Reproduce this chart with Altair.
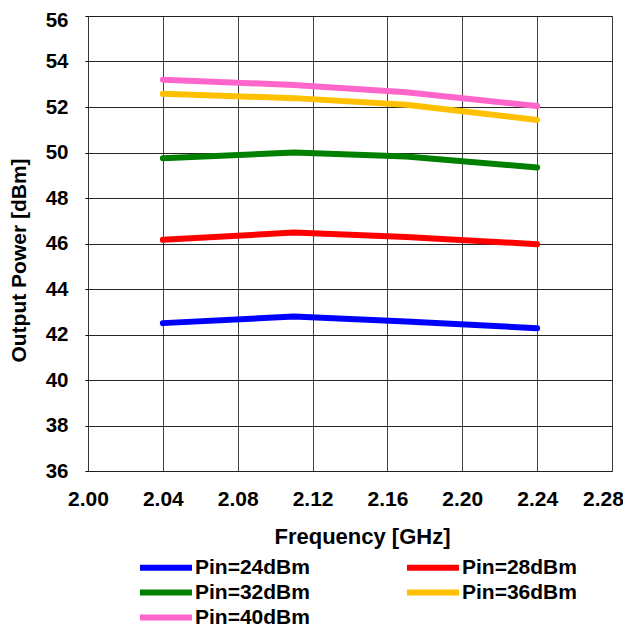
import altair as alt
import pandas as pd

freq = [2.04, 2.11, 2.17, 2.24]
series_names = ["Pin=24dBm", "Pin=28dBm", "Pin=32dBm", "Pin=36dBm", "Pin=40dBm"]
p24 = [42.50, 42.79, 42.57, 42.28]
p28 = [46.16, 46.48, 46.29, 45.97]
p32 = [49.75, 50.00, 49.82, 49.34]
p36 = [52.58, 52.39, 52.10, 51.43]
p40 = [53.20, 52.97, 52.65, 52.04]
colors = ["#0000FF", "#FF0000", "#008000", "#FFC000", "#FF66CC"]
x_ticks = [2.00, 2.04, 2.08, 2.12, 2.16, 2.20, 2.24, 2.28]
y_ticks = [36, 38, 40, 42, 44, 46, 48, 50, 52, 54, 56]

rows = []
for name, vals in zip(series_names, [p24, p28, p32, p36, p40]):
    for f, v in zip(freq, vals):
        rows.append({"Frequency": f, "Power": v, "Series": name})
df = pd.DataFrame(rows)

FONT = "Liberation Sans"

chart = alt.Chart(df).mark_line(strokeWidth=6, strokeCap="round", strokeJoin="round").encode(
    x=alt.X("Frequency:Q",
            scale=alt.Scale(domain=[2.00, 2.28], nice=False, zero=False),
            axis=alt.Axis(values=x_ticks, format=".2f", title="Frequency [GHz]",
                          grid=True, gridColor="#000000", gridWidth=1, gridOpacity=0.75,
                          tickSize=0, labelPadding=17, labelFlush=False,
                          labelOffset={"condition": {"test": "datum.value > 2.27", "value": -9},
                                       "value": 0},
                          titleX=274, titleY=72, titleAlign="center", titleBaseline="alphabetic",
                          labelFontSize=21, titleFontSize=22, labelFont=FONT, titleFont=FONT,
                          labelFontWeight="bold", titleFontWeight="bold",
                          labelColor="#000000", titleColor="#000000", domain=False)),
    y=alt.Y("Power:Q",
            scale=alt.Scale(domain=[36, 56], nice=False, zero=False),
            axis=alt.Axis(values=y_ticks, format="d", title="Output Power [dBm]",
                          grid=True, gridColor="#000000", gridWidth=1, gridOpacity=0.85,
                          tickSize=3, tickColor="#000000", labelPadding=17, labelFlush=False,
                          labelOffset={"condition": {"test": "datum.value > 55.5", "value": 4},
                                       "value": 0},
                          titleX=-62.5, titleY=244, titleAngle=270, titleAlign="center",
                          titleBaseline="alphabetic",
                          labelFontSize=20.5, titleFontSize=21, labelFont=FONT, titleFont=FONT,
                          labelFontWeight="bold", titleFontWeight="bold",
                          labelColor="#000000", titleColor="#000000", domain=False)),
    color=alt.Color("Series:N",
                    scale=alt.Scale(domain=series_names, range=colors),
                    sort=series_names,
                    legend=alt.Legend(title=None, orient="none", columns=2, direction="horizontal",
                                      legendX=66.5, legendY=540,
                                      symbolType="M-3.06,0H3.06", symbolSize=289,
                                      symbolStrokeWidth=6,
                                      labelFontSize=21, labelFont=FONT, labelFontWeight="bold",
                                      labelColor="#000000", labelOffset=17.5,
                                      columnPadding=84, rowPadding=0, padding=0)),
).properties(
    width=524, height=455,
    padding={"left": 80, "top": 8, "right": 11, "bottom": 156},
    autosize=alt.AutoSizeParams(type="none"),
).configure_view(
    stroke="#000000", strokeWidth=1.5
).configure(background="white")

chart.save("out.html", embed_options={"renderer": "svg", "actions": False})
